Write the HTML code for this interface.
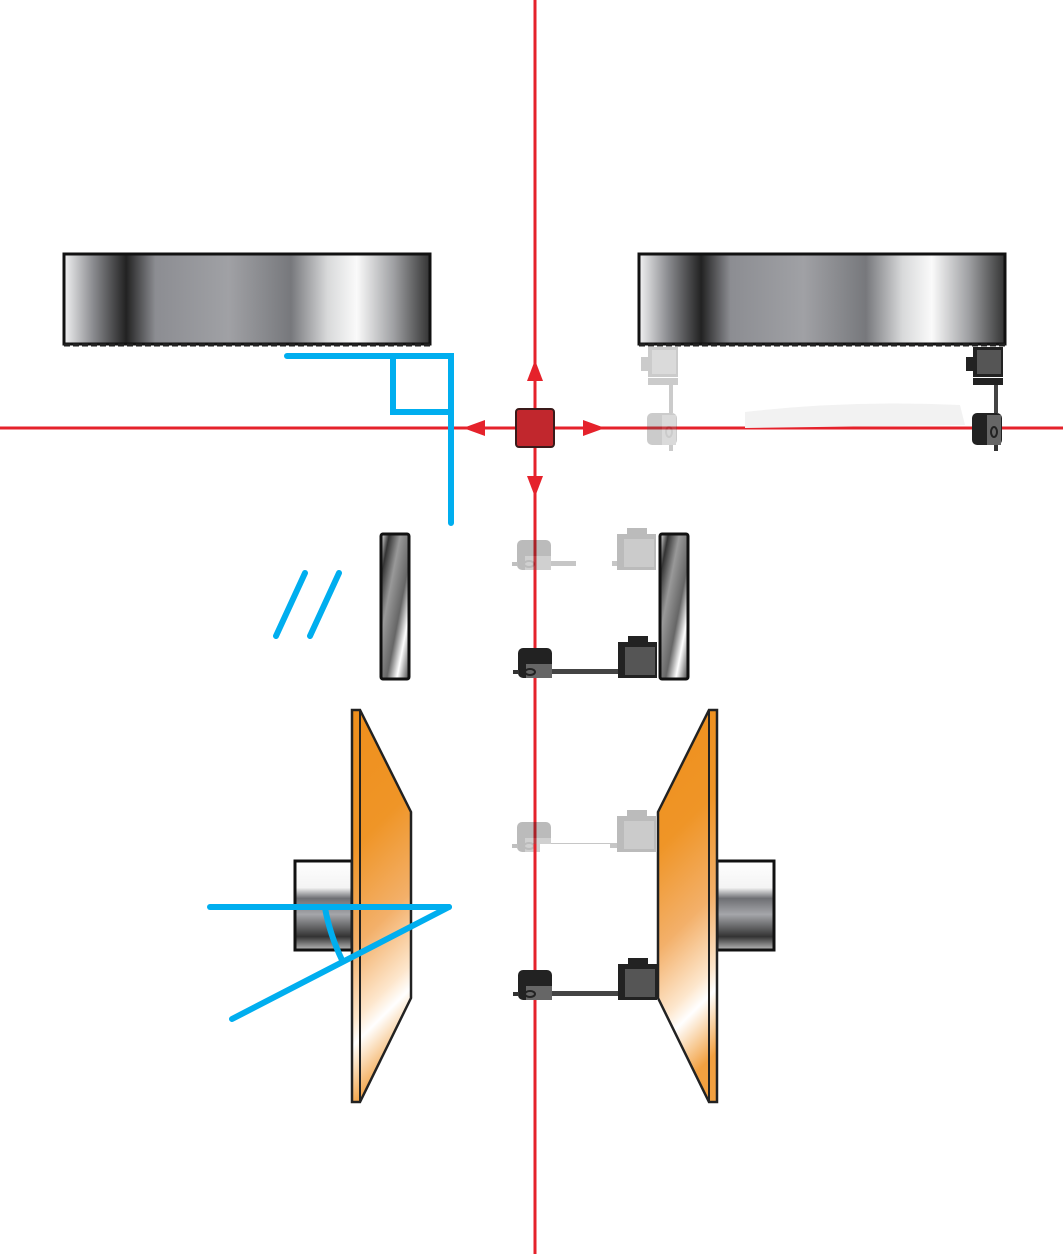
<!DOCTYPE html>
<html><head><meta charset="utf-8"><style>html,body{margin:0;padding:0;background:#fff}svg{display:block}</style></head>
<body>
<svg width="1063" height="1254" viewBox="0 0 1063 1254" xmlns="http://www.w3.org/2000/svg">
<defs>
<linearGradient id="ring" x1="0" x2="1" y1="0" y2="0">
<stop offset="0" stop-color="#f2f2f3"/><stop offset="0.08" stop-color="#8a8b8f"/><stop offset="0.17" stop-color="#222"/>
<stop offset="0.25" stop-color="#8c8d92"/><stop offset="0.45" stop-color="#a0a1a5"/><stop offset="0.62" stop-color="#77787c"/>
<stop offset="0.72" stop-color="#d8d9da"/><stop offset="0.8" stop-color="#fafafa"/><stop offset="0.9" stop-color="#a0a1a4"/><stop offset="1" stop-color="#333"/>
</linearGradient>
<linearGradient id="mir" x1="0" x2="1" y1="0" y2="1">
<stop offset="0" stop-color="#eee"/><stop offset="0.15" stop-color="#333"/><stop offset="0.35" stop-color="#999"/>
<stop offset="0.6" stop-color="#666"/><stop offset="0.78" stop-color="#fff"/><stop offset="1" stop-color="#444"/>
</linearGradient>
<linearGradient id="cyl" x1="0" x2="0" y1="0" y2="1">
<stop offset="0" stop-color="#fff"/><stop offset="0.3" stop-color="#f4f4f4"/><stop offset="0.42" stop-color="#6e6f73"/>
<stop offset="0.6" stop-color="#a5a6aa"/><stop offset="0.85" stop-color="#333"/><stop offset="1" stop-color="#bbb"/>
</linearGradient>
<linearGradient id="org" x1="0" x2="0.15" y1="0" y2="1">
<stop offset="0" stop-color="#ef8f1c"/><stop offset="0.35" stop-color="#ef9527"/><stop offset="0.6" stop-color="#f3b06a"/>
<stop offset="0.78" stop-color="#fde6cc"/><stop offset="0.84" stop-color="#fff"/><stop offset="1" stop-color="#f2a040"/>
</linearGradient>
<g id="gauge">
<rect x="0" y="0" width="34" height="30" rx="5" fill="#222"/>
<rect x="8" y="16" width="26" height="14" fill="#666"/>
<ellipse cx="12" cy="24" rx="5" ry="3" fill="none" stroke="#222" stroke-width="2"/>
<rect x="-5" y="22" width="6" height="4" fill="#333"/>
<rect x="34" y="21" width="66" height="5" fill="#444"/>
<rect x="100" y="-6" width="39" height="36" fill="#222"/>
<rect x="107" y="-1" width="30" height="28" fill="#555"/>
<rect x="110" y="-12" width="20" height="7" fill="#222"/>
</g>
</defs>
<line x1="535" y1="0" x2="535" y2="1254" stroke="#e5222b" stroke-width="3"/>
<line x1="0" y1="428" x2="1063" y2="428" stroke="#e5222b" stroke-width="3"/>
<path d="M745 412 Q850 400 960 405 L965 425 L745 428 Z" fill="#f2f2f2"/>
<rect x="64" y="254" width="366" height="90" fill="url(#ring)" stroke="#111" stroke-width="3"/>
<line x1="64" y1="345" x2="430" y2="345" stroke="#222" stroke-width="3" stroke-dasharray="6,3"/>
<rect x="639" y="254" width="366" height="90" fill="url(#ring)" stroke="#111" stroke-width="3"/>
<line x1="639" y1="345" x2="1005" y2="345" stroke="#222" stroke-width="3" stroke-dasharray="6,3"/>
<g>
<rect x="973" y="347" width="30" height="30" fill="#222"/><rect x="977" y="350" width="24" height="24" fill="#555"/>
<rect x="966" y="357" width="7" height="14" fill="#222"/>
<rect x="973" y="378" width="30" height="7" fill="#222"/>
<rect x="994" y="385" width="4" height="28" fill="#444"/>
<rect x="972" y="413" width="30" height="32" rx="5" fill="#222"/><rect x="987" y="415" width="14" height="30" fill="#666"/>
<ellipse cx="994" cy="432" rx="3" ry="5" fill="none" stroke="#222" stroke-width="2"/>
<rect x="994" y="445" width="4" height="6" fill="#333"/>
</g>
<g opacity="0.3">
<rect x="648" y="347" width="30" height="30" fill="#555"/><rect x="652" y="350" width="24" height="24" fill="#888"/>
<rect x="641" y="357" width="7" height="14" fill="#555"/>
<rect x="648" y="378" width="30" height="7" fill="#555"/>
<rect x="669" y="385" width="4" height="28" fill="#555"/>
<rect x="647" y="413" width="30" height="32" rx="5" fill="#555"/><rect x="662" y="415" width="14" height="30" fill="#888"/>
<ellipse cx="669" cy="432" rx="3" ry="5" fill="none" stroke="#555" stroke-width="2"/>
<rect x="669" y="445" width="4" height="6" fill="#555"/>
</g>
<rect x="516" y="409" width="38" height="38" rx="3" fill="#c1272d" stroke="#3a1a1a" stroke-width="2"/>
<polygon points="535,360 527,381 543,381" fill="#e5222b"/>
<polygon points="535,497 527,476 543,476" fill="#e5222b"/>
<polygon points="463,428 485,420 485,436" fill="#e5222b"/>
<polygon points="605,428 583,420 583,436" fill="#e5222b"/>
<g fill="none" stroke="#00aeef" stroke-width="6" stroke-linecap="round">
<polyline points="287,356 451,356 451,523"/>
<polyline points="393,356 393,412 451,412"/>
<line x1="276" y1="636" x2="305" y2="573"/>
<line x1="310" y1="636" x2="339" y2="573"/>
</g>
<rect x="381" y="534" width="28" height="145" rx="2" fill="url(#mir)" stroke="#111" stroke-width="3"/>
<rect x="660" y="534" width="28" height="145" rx="2" fill="url(#mir)" stroke="#111" stroke-width="3"/>
<g opacity="0.3"><use href="#gauge" transform="translate(517,540)"/></g>
<rect x="576" y="556" width="36" height="14" fill="#fff"/>
<use href="#gauge" transform="translate(518,648)"/>
<g opacity="0.3"><use href="#gauge" transform="translate(517,822)"/></g>
<rect x="540" y="844" width="70" height="30" fill="#fff"/>
<line x1="535" y1="844" x2="535" y2="874" stroke="#e5222b" stroke-width="3"/>
<use href="#gauge" transform="translate(518,970)"/>
<rect x="295" y="861" width="57" height="89" fill="url(#cyl)" stroke="#111" stroke-width="3"/>
<polygon points="352,710 360,710 411,812 411,998 360,1102 352,1102" fill="url(#org)" stroke="#222" stroke-width="2.5"/>
<line x1="360" y1="710" x2="360" y2="1102" stroke="#222" stroke-width="2"/>
<rect x="717" y="861" width="57" height="89" fill="url(#cyl)" stroke="#111" stroke-width="3"/>
<polygon points="717,710 709,710 658,812 658,998 709,1102 717,1102" fill="url(#org)" stroke="#222" stroke-width="2.5"/>
<line x1="709" y1="710" x2="709" y2="1102" stroke="#222" stroke-width="2"/>
<g fill="none" stroke="#00aeef" stroke-width="6" stroke-linecap="round">
<line x1="210" y1="907" x2="449" y2="907"/>
<line x1="449" y1="907" x2="232" y2="1019"/>
<path d="M325 908 Q330 935 342 960"/>
</g>
</svg>
</body></html>
